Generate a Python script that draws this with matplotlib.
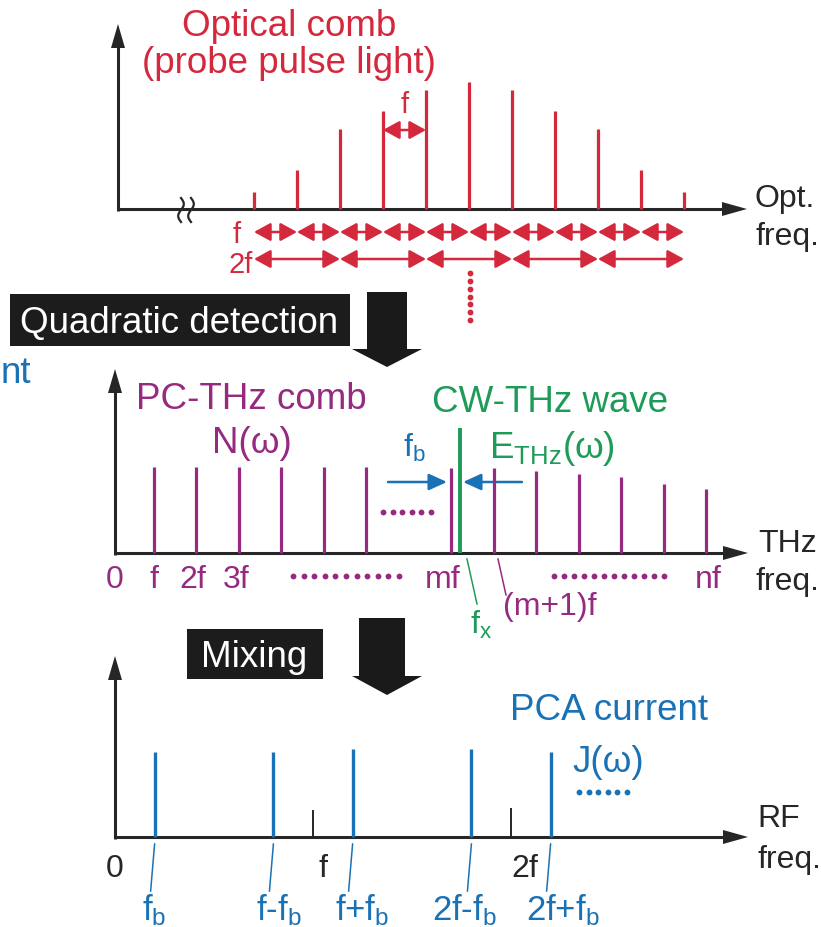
import numpy as np
import matplotlib
matplotlib.use("Agg")
import matplotlib.pyplot as plt
from matplotlib.patches import Polygon, Rectangle, FancyArrowPatch
from matplotlib.transforms import blended_transform_factory

plt.rcParams['font.family'] = ['Liberation Sans', 'DejaVu Sans']
plt.rcParams['mathtext.fontset'] = 'custom'
plt.rcParams['mathtext.rm'] = 'Liberation Sans'
plt.rcParams['mathtext.it'] = 'Liberation Sans'
plt.rcParams['mathtext.default'] = 'regular'

RED = '#d4283c'
PURPLE = '#962a80'
GREEN = '#1e9b58'
BLUE = '#1a72b6'
DARK = '#262626'

# optical comb (probe pulse light): mode index and relative amplitude
opt_modes = list(range(11))
opt_amp = [0.13, 0.31, 0.63, 0.77, 0.94, 1.00, 0.94, 0.77, 0.63, 0.31, 0.13]

# PC-THz comb: harmonic number (units of f) and amplitude
thz_harm = [1, 2, 3, 4, 5, 6, 8, 9, 10, 11, 12, 13, 14]
thz_amp = [1.0, 1.0, 1.0, 1.0, 1.0, 1.0, 0.99, 0.99, 0.95, 0.92, 0.88, 0.80, 0.74]
thz_ticks = [0, 1, 2, 3, 8, 14]
thz_tick_labels = ['0', 'f', '2f', '3f', 'mf', 'nf']

# CW-THz wave f_x, sitting just above mf
cw_freq = 8.21
cw_amp = 1.45

# PCA current after mixing (units of f)
fb = 0.2
pca_freq = [fb, 1 - fb, 1 + fb, 2 - fb, 2 + fb]
pca_amp = [1.0, 1.0, 1.03, 1.03, 1.0]
pca_labels = ['f$_b$', 'f-f$_b$', 'f+f$_b$', '2f-f$_b$', '2f+f$_b$']
ref_freq = [1, 2]
ref_amp = [0.32, 0.34]
ref_labels = ['f', '2f']

W, H = 821, 928
fig = plt.figure(figsize=(W / 100, H / 100), dpi=100)
fig.patch.set_facecolor('white')

# pixel canvas for axes arrows, labels and boxes
ov = fig.add_axes([0, 0, 1, 1])
ov.set_xlim(0, W)
ov.set_ylim(H, 0)
ov.axis('off')


def panel(x0, ux, yb, uy):
    # data (0, 0) sits at pixel (x0, yb); ux / uy pixels per unit
    ax = fig.add_axes([0, 0, 1, 1], facecolor='none')
    ax.set_xlim(-x0 / ux, (W - x0) / ux)
    ax.set_ylim(-(H - yb) / uy, yb / uy)
    ax.axis('off')
    return ax, blended_transform_factory(ax.transData, ov.transData)


def frame(x0, y0, xtip, ytip):
    ov.plot([x0, x0], [y0 + 1.5, ytip + 20], color=DARK, lw=2.2, solid_capstyle='butt')
    ov.add_patch(Polygon([[x0 - 7, ytip + 24], [x0 + 7, ytip + 24], [x0, ytip]],
                         closed=True, color=DARK, lw=0))
    ov.plot([x0 - 1.5, xtip - 20], [y0, y0], color=DARK, lw=2.2, solid_capstyle='butt')
    ov.add_patch(Polygon([[xtip - 25, y0 - 7], [xtip - 25, y0 + 7], [xtip, y0]],
                         closed=True, color=DARK, lw=0))


def arrow(a, b, trans, color, style, lw=1.8):
    ov.add_patch(FancyArrowPatch(a, b, transform=trans, arrowstyle=style,
                                 mutation_scale=10, shrinkA=0, shrinkB=0,
                                 color=color, lw=lw))


def dots(x1, x2, y, n, color, vertical=False):
    s = np.linspace(x1, x2, n)
    if vertical:
        ov.plot([y] * n, s, 'o', ms=4.2, color=color, mec='none')
    else:
        ov.plot(s, [y] * n, 'o', ms=4.2, color=color, mec='none')


def down_arrow(top, shaft_l, shaft_r, head_y, tip_y, head_l=352, head_r=422):
    xc = (head_l + head_r) / 2
    ov.add_patch(Polygon([[shaft_l, top], [shaft_r, top], [shaft_r, head_y],
                          [head_r, head_y], [xc, tip_y], [head_l, head_y],
                          [shaft_l, head_y]], closed=True, color='#1a1a1a', lw=0))


BIG = 26.5
MID = 23
dbl = '<|-|>,head_length=1.0,head_width=0.55'

# ---- optical comb ----
ax1, bt1 = panel(254, 43, 210, 127)
ax1.vlines(opt_modes, 0, opt_amp, color=RED, lw=2.3)
frame(118, 210, 747, 25)
# axis break
t = np.linspace(0, 1, 40)
for xc in (181, 191):
    ov.plot(xc + 2.8 * np.sin(2 * np.pi * t), 199 + 24 * t, color=DARK, lw=1.6)

ov.text(289, 36, 'Optical comb', color=RED, fontsize=BIG, ha='center', va='baseline')
ov.text(289, 73, '(probe pulse light)', color=RED, fontsize=BIG, ha='center', va='baseline')
arrow((3, 131), (4, 131), bt1, RED, dbl)
ax1.text(3.5, 113, 'f', transform=bt1, color=RED, fontsize=21, ha='center', va='baseline')

for i in range(10):
    arrow((opt_modes[i], 233), (opt_modes[i + 1], 233), bt1, RED, dbl)
for i in range(0, 10, 2):
    arrow((opt_modes[i], 260), (opt_modes[i + 2], 260), bt1, RED, dbl)
ov.text(237, 243, 'f', color=RED, fontsize=21, ha='center', va='baseline')
ov.text(253, 273, '2f', color=RED, fontsize=21, ha='right', va='baseline')
dots(274, 321, 470, 7, RED, vertical=True)

ov.text(755, 207, 'Opt.', color=DARK, fontsize=MID, ha='left', va='baseline')
ov.text(755, 245, 'freq.', color=DARK, fontsize=MID, ha='left', va='baseline')

# ---- quadratic detection ----
ov.add_patch(Rectangle((10, 295), 340, 52, color='#1c1c1c', lw=0))
ov.text(179, 333, 'Quadratic detection', color='white', fontsize=BIG,
        ha='center', va='baseline')
down_arrow(293, 367, 407, 350, 368)
ov.text(1, 383, 'nt', color=BLUE, fontsize=BIG, ha='left', va='baseline')

# ---- THz comb ----
ax2, bt2 = panel(111, 42.5, 554, 86)
ax2.vlines(thz_harm, 0, thz_amp, color=PURPLE, lw=2.3)
ax2.vlines(cw_freq, 0, cw_amp, color=GREEN, lw=2.8)
frame(115, 554, 748, 370)

ov.text(251, 409, 'PC-THz comb', color=PURPLE, fontsize=BIG, ha='center', va='baseline')
ov.text(252, 453, 'N(ω)', color=PURPLE, fontsize=BIG, ha='center', va='baseline')
ov.text(550, 412, 'CW-THz wave', color=GREEN, fontsize=BIG, ha='center', va='baseline')
ov.text(489, 458, 'E$_{THz}$(ω)', color=GREEN, fontsize=BIG, ha='left', va='baseline')
ov.text(403, 457, 'f$_b$', color=BLUE, fontsize=MID, ha='left', va='baseline')
one = '-|>,head_length=1.1,head_width=0.5'
arrow((388, 483), (447, 483), ov.transData, BLUE, one)
arrow((522, 483), (463, 483), ov.transData, BLUE, one)
dots(383, 431, 513, 6, PURPLE)

tick_dx = [0, 0, -3, -2, -8, 2]
for h, lab, dx in zip(thz_ticks, thz_tick_labels, tick_dx):
    x = 115 if h == 0 else 111 + 42.5 * h + dx
    ov.text(x, 588, lab, color=PURPLE, fontsize=MID, ha='center', va='baseline')
dots(293, 399, 577, 11, PURPLE)
dots(554, 664, 577, 12, PURPLE)
ov.plot([498, 506], [560, 596], color=PURPLE, lw=1.1)
ov.text(503, 615, '(m+1)f', color=PURPLE, fontsize=MID, ha='left', va='baseline')
ov.plot([467, 477], [560, 605], color=GREEN, lw=1.1)
ov.text(470, 634, 'f$_x$', color=GREEN, fontsize=MID, ha='left', va='baseline')

ov.text(758, 552, 'THz', color=DARK, fontsize=MID, ha='left', va='baseline')
ov.text(756, 590, 'freq.', color=DARK, fontsize=MID, ha='left', va='baseline')

# ---- mixing ----
ov.add_patch(Rectangle((187, 630), 136, 50, color='#1c1c1c', lw=0))
ov.text(254, 667, 'Mixing', color='white', fontsize=BIG, ha='center', va='baseline')
down_arrow(619, 359, 405, 677, 696)

# ---- PCA current ----
ax3, bt3 = panel(115, 198, 838, 85)
ax3.vlines(pca_freq, 0, pca_amp, color=BLUE, lw=2.4)
ax3.vlines(ref_freq, 0, ref_amp, color=DARK, lw=1.4)
frame(115, 838, 748, 657)

ov.text(115, 877, '0', color=DARK, fontsize=MID, ha='center', va='baseline')
for f, lab, dx in zip(ref_freq, ref_labels, [10, 14]):
    ax3.text(f + dx / 198, 877, lab, transform=bt3, color=DARK, fontsize=MID,
             ha='center', va='baseline')

lab_dx = [0, 5, 10, -7, 12]
for f, lab, dx in zip(pca_freq, pca_labels, lab_dx):
    ax3.plot([f, f - 0.02], [845, 892], transform=bt3, color=BLUE, lw=1.1)
    ax3.text(f + dx / 198, 920, lab, transform=bt3, color=BLUE, fontsize=25,
             ha='center', va='baseline')

ov.text(609, 720, 'PCA current', color=BLUE, fontsize=BIG, ha='center', va='baseline')
ov.text(608, 772, 'J(ω)', color=BLUE, fontsize=BIG, ha='center', va='baseline')
dots(579, 627, 793, 6, BLUE)

ov.text(757, 827, 'RF', color=DARK, fontsize=MID, ha='left', va='baseline')
ov.text(757, 868, 'freq.', color=DARK, fontsize=MID, ha='left', va='baseline')

fig.savefig('out.png', dpi=100)
